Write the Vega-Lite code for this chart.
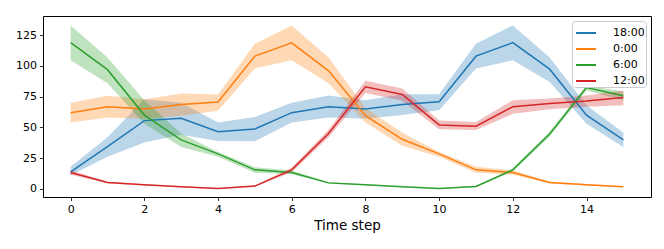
{
  "$schema": "https://vega.github.io/schema/vega-lite/v6.json",
  "width": 608,
  "height": 181,
  "autosize": {"type": "none"},
  "padding": {"left": 43, "top": 16, "right": 13, "bottom": 52},
  "config": {
    "view": {"stroke": "black", "strokeWidth": 1},
    "font": "DejaVu Sans",
    "axis": {
      "domain": false, "grid": false, "tickColor": "black", "tickSize": 3.5, "tickWidth": 0.8,
      "labelFont": "DejaVu Sans", "labelFontSize": 11, "labelColor": "black", "labelPadding": 3,
      "titleFont": "DejaVu Sans", "titleFontSize": 13.5, "titleFontWeight": "normal", "titleColor": "black"
    }
  },
  "data": {"values": [
    {"s":"18:00","t":0,"m":13.8,"lo":11,"hi":18},
    {"s":"18:00","t":1,"m":34.4,"lo":26,"hi":42},
    {"s":"18:00","t":2,"m":55.5,"lo":37.6,"hi":73},
    {"s":"18:00","t":3,"m":57.4,"lo":44,"hi":70},
    {"s":"18:00","t":4,"m":46.5,"lo":39,"hi":54},
    {"s":"18:00","t":5,"m":48.7,"lo":38.7,"hi":58.4},
    {"s":"18:00","t":6,"m":62,"lo":54,"hi":70},
    {"s":"18:00","t":7,"m":66.8,"lo":58,"hi":76},
    {"s":"18:00","t":8,"m":64.9,"lo":57,"hi":72},
    {"s":"18:00","t":9,"m":68.7,"lo":60,"hi":77},
    {"s":"18:00","t":10,"m":70.9,"lo":64,"hi":77},
    {"s":"18:00","t":11,"m":108,"lo":98,"hi":118},
    {"s":"18:00","t":12,"m":119,"lo":104.7,"hi":133},
    {"s":"18:00","t":13,"m":97.4,"lo":87,"hi":107},
    {"s":"18:00","t":14,"m":60,"lo":53,"hi":68},
    {"s":"18:00","t":15,"m":39.8,"lo":34,"hi":45.7},
    {"s":"0:00","t":0,"m":62,"lo":54,"hi":70},
    {"s":"0:00","t":1,"m":66.8,"lo":58,"hi":75.8},
    {"s":"0:00","t":2,"m":65,"lo":57,"hi":73},
    {"s":"0:00","t":3,"m":68.7,"lo":59.5,"hi":77.6},
    {"s":"0:00","t":4,"m":70.6,"lo":63.6,"hi":76.8},
    {"s":"0:00","t":5,"m":108,"lo":98,"hi":118},
    {"s":"0:00","t":6,"m":118.8,"lo":104.7,"hi":133},
    {"s":"0:00","t":7,"m":96,"lo":86,"hi":107},
    {"s":"0:00","t":8,"m":59.5,"lo":54,"hi":65.5},
    {"s":"0:00","t":9,"m":40.3,"lo":35,"hi":45.7},
    {"s":"0:00","t":10,"m":28.4,"lo":26,"hi":30},
    {"s":"0:00","t":11,"m":15.4,"lo":13,"hi":18},
    {"s":"0:00","t":12,"m":13.3,"lo":11.4,"hi":15},
    {"s":"0:00","t":13,"m":5.1,"lo":4.2,"hi":6},
    {"s":"0:00","t":14,"m":3.2,"lo":2.6,"hi":3.8},
    {"s":"0:00","t":15,"m":1.6,"lo":1.1,"hi":2.1},
    {"s":"6:00","t":0,"m":119,"lo":104.7,"hi":133},
    {"s":"6:00","t":1,"m":97,"lo":86,"hi":107},
    {"s":"6:00","t":2,"m":60,"lo":53,"hi":72},
    {"s":"6:00","t":3,"m":39.8,"lo":34,"hi":45},
    {"s":"6:00","t":4,"m":28.4,"lo":26,"hi":30},
    {"s":"6:00","t":5,"m":15.4,"lo":13,"hi":17.5},
    {"s":"6:00","t":6,"m":13.3,"lo":11.8,"hi":14.8},
    {"s":"6:00","t":7,"m":4.8,"lo":4.2,"hi":5.4},
    {"s":"6:00","t":8,"m":3.2,"lo":2.8,"hi":3.6},
    {"s":"6:00","t":9,"m":1.6,"lo":1.3,"hi":1.9},
    {"s":"6:00","t":10,"m":0.3,"lo":0.1,"hi":0.5},
    {"s":"6:00","t":11,"m":1.9,"lo":1.5,"hi":2.3},
    {"s":"6:00","t":12,"m":15.4,"lo":14,"hi":16.8},
    {"s":"6:00","t":13,"m":44.6,"lo":42.5,"hi":46.7},
    {"s":"6:00","t":14,"m":82.5,"lo":80,"hi":84.4},
    {"s":"6:00","t":15,"m":75.8,"lo":72,"hi":79},
    {"s":"12:00","t":0,"m":13.3,"lo":11.4,"hi":15},
    {"s":"12:00","t":1,"m":5.1,"lo":4.4,"hi":5.8},
    {"s":"12:00","t":2,"m":3.2,"lo":2.7,"hi":3.7},
    {"s":"12:00","t":3,"m":1.6,"lo":1.2,"hi":2},
    {"s":"12:00","t":4,"m":0.3,"lo":0.1,"hi":0.5},
    {"s":"12:00","t":5,"m":2.2,"lo":1.7,"hi":2.7},
    {"s":"12:00","t":6,"m":15.4,"lo":13.5,"hi":17.3},
    {"s":"12:00","t":7,"m":45,"lo":42,"hi":48},
    {"s":"12:00","t":8,"m":83,"lo":78,"hi":88},
    {"s":"12:00","t":9,"m":76.8,"lo":71.7,"hi":81.7},
    {"s":"12:00","t":10,"m":52,"lo":48.4,"hi":55.5},
    {"s":"12:00","t":11,"m":51,"lo":47.9,"hi":54.4},
    {"s":"12:00","t":12,"m":66.8,"lo":61,"hi":72},
    {"s":"12:00","t":13,"m":69.5,"lo":64.7,"hi":73.6},
    {"s":"12:00","t":14,"m":71.4,"lo":66.8,"hi":76},
    {"s":"12:00","t":15,"m":74.4,"lo":68,"hi":80}
  ]},
  "encoding": {
    "x": {"field": "t", "type": "quantitative", "title": "Time step",
      "scale": {"domain": [-0.75, 15.75], "nice": false, "zero": false},
      "axis": {"values": [0,2,4,6,8,10,12,14], "titlePadding": 4}},
    "color": {"field": "s", "type": "nominal",
      "scale": {"domain": ["18:00","0:00","6:00","12:00"], "range": ["#1f77b4","#ff7f0e","#2ca02c","#d62728"]},
      "legend": {"title": null, "orient": "top-right", "offset": 5, "symbolType": "stroke", "symbolSize": 400,
        "symbolStrokeWidth": 2, "symbolOpacity": 1, "symbolOffset": 2, "labelFontSize": 11, "labelFont": "DejaVu Sans", "labelColor": "black",
        "labelExpr": "datum.label + ' '",
        "fillColor": "white", "strokeColor": "#cccccc", "cornerRadius": 3, "padding": 1, "rowPadding": -3,
        "labelOffset": 16}}
  },
  "layer": [
    {
      "mark": {"type": "area", "opacity": 0.3},
      "encoding": {
        "y": {"field": "lo", "type": "quantitative", "title": null,
          "scale": {"domain": [-6.7, 140.7], "nice": false, "zero": false},
          "axis": {"values": [0,25,50,75,100,125]}},
        "y2": {"field": "hi"}
      }
    },
    {
      "mark": {"type": "line", "strokeWidth": 1.5},
      "encoding": {
        "y": {"field": "m", "type": "quantitative", "title": null,
          "axis": {"values": [0,25,50,75,100,125]}}
      }
    }
  ]
}
